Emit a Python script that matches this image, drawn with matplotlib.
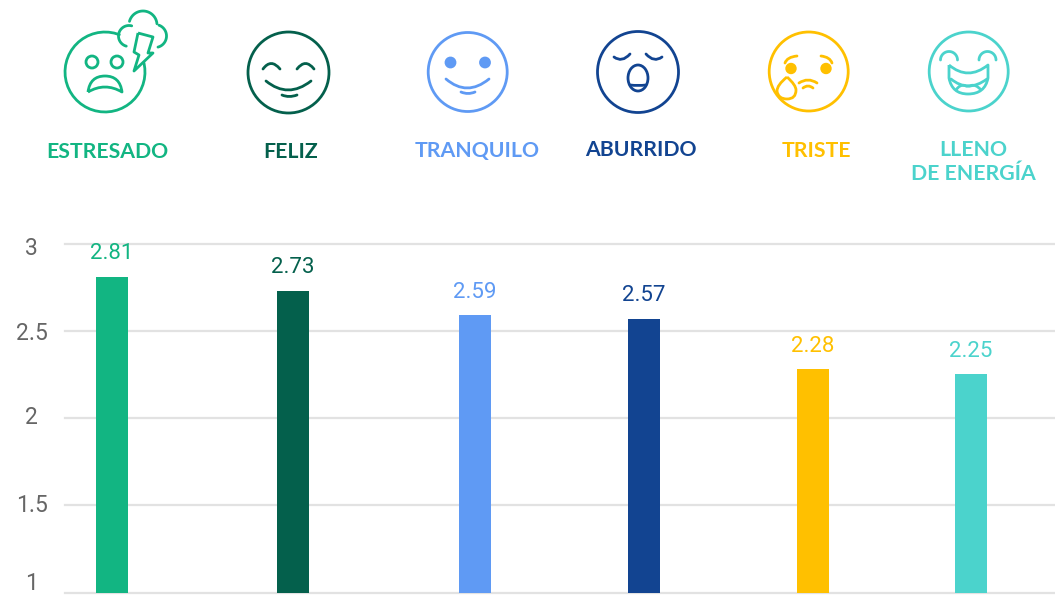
import numpy as np
import matplotlib
matplotlib.use("Agg")
import matplotlib.pyplot as plt
from matplotlib.path import Path
from matplotlib.patches import PathPatch, Circle, Ellipse
from matplotlib.transforms import ScaledTranslation

labels = ["ESTRESADO", "FELIZ", "TRANQUILO", "ABURRIDO", "TRISTE", "LLENO\nDE ENERGÍA"]
values = [2.81, 2.73, 2.59, 2.57, 2.28, 2.25]
colors = ["#12B582", "#04604C", "#5F9AF4", "#124491", "#FFC000", "#4BD3CC"]
yticks = [1, 1.5, 2, 2.5, 3]
yticklabels = ["1", "1.5", "2", "2.5", "3"]

# layout, in reference pixels
bar_x = [112, 293, 475, 644, 813, 971]
label_x = [107, 291, 477, 641, 816, 973]
label_y = [152, 152, 151, 150, 151, 150]
tick_shift = [11, 2, 3, 0, -2]  # the tick labels sit a bit off their gridlines
W, H = 1055, 596

fig = plt.figure(figsize=(W / 100, H / 100), dpi=100)

ax = fig.add_axes([65 / W, (H - 592.5) / H, (W - 65) / W, 349 / H])
ax.set_xlim(65, W)
ax.set_ylim(1, 3)
ax.bar(bar_x, np.array(values) - 1, bottom=1, width=32, color=colors, zorder=3)
for x, v, c in zip(bar_x, values, colors):
    ax.annotate(f"{v:.2f}", (x, v), xytext=(0, 9), textcoords="offset points",
                ha="center", va="bottom", fontsize=16, color=c,
                family="Roboto", annotation_clip=False)
ax.set_yticks(yticks, yticklabels)
ax.set_xticks([])
ax.grid(axis="y", color="#e2e2e2", lw=1.6, zorder=0)
for g in ax.get_ygridlines():
    g.set_clip_on(False)
ax.tick_params(axis="y", length=0, pad=24, labelsize=16.5, labelcolor="#666666")
for t, dy in zip(ax.get_yticklabels(), tick_shift):
    t.set_family("Roboto")
    t.set_ha("center")
    t.set_transform(t.get_transform() + ScaledTranslation(0, dy / 100, fig.dpi_scale_trans))
for s in ax.spines.values():
    s.set_visible(False)

# overlay in pixel coordinates for the icons and the titles
ov = fig.add_axes([0, 0, 1, 1], facecolor="none")
ov.set_xlim(0, W)
ov.set_ylim(H, 0)
ov.axis("off")

LW = 2.0


def ring(x, y, r, c, lw=LW, fill=False):
    ov.add_patch(Circle((x, y), r, fc=c if fill else "none", ec=c, lw=lw))


def arc(cx, cy, r, t1, t2, c, lw=LW):
    t = np.radians(np.linspace(t1, t2, 40))
    ov.plot(cx + r * np.cos(t), cy - r * np.sin(t), color=c, lw=lw, solid_capstyle="round")


def curve(p0, ctrl, p1, c, lw=LW):
    path = Path([p0, ctrl, p1], [Path.MOVETO, Path.CURVE3, Path.CURVE3])
    ov.add_patch(PathPatch(path, fc="none", ec=c, lw=lw, capstyle="round"))


def shape(points, codes, c, lw=LW):
    ov.add_patch(PathPatch(Path(points, codes), fc="none", ec=c, lw=lw, joinstyle="round"))


M, L, Q = Path.MOVETO, Path.LINETO, Path.CURVE3

# estresado
c = colors[0]
arc(105, 72, 40, 69, 373, c)
ring(92, 62, 6, c)
ring(117, 62, 6, c)
shape([(88, 92), (90, 76), (105, 76), (120, 76), (122, 92), (105, 82), (88, 92)],
      [M, Q, Q, Q, Q, Q, Q], c)
arc(129, 36, 10.5, 75, 255, c)
arc(143, 25, 14, 5, 165, c)
arc(155, 36, 11.5, -75, 70, c)
shape([(138, 33), (153, 37), (148, 53), (153, 53), (134, 71), (139, 55), (134, 52), (138, 33)],
      [M, L, L, L, L, L, L, L], c)

# feliz
c = colors[1]
ring(288.5, 72.5, 40.5, c)
curve((263, 69), (271, 58), (280, 69), c)
curve((297, 69), (305.5, 58), (314, 69), c)
curve((266, 81), (288, 99), (311, 81), c)
curve((282, 95), (289, 98), (297, 95), c)

# tranquilo
c = colors[2]
ring(467.7, 72, 39.5, c)
ring(450.5, 62.5, 4.5, c, fill=True)
ring(485, 62.5, 4.5, c, fill=True)
curve((446, 79), (467, 97), (489, 79), c)
curve((461, 92), (468, 95), (475, 92), c)

# aburrido
c = colors[3]
ring(638, 72, 40.5, c)
curve((614, 57), (622, 63), (630, 54), c)
curve((646, 54), (654, 63), (662, 57), c)
ov.add_patch(Ellipse((638, 78), 20, 26, fc="none", ec=c, lw=LW))
curve((630, 85), (638, 86), (646, 85), c)

# triste
c = colors[4]
ring(808.7, 71.5, 39.5, c)
ring(791, 68.5, 4.3, c, fill=True)
ring(826, 68.5, 4.3, c, fill=True)
curve((785, 63), (787, 57), (797, 56), c)
curve((821, 56), (830, 57), (832, 63), c)
curve((799, 83), (808, 77), (817, 83), c)
curve((803, 88), (808, 84), (813, 88), c)
shape([(787, 77), (777, 85), (777, 91), (778, 99), (787, 99), (796, 99), (796, 90), (796, 85), (787, 77)],
      [M, Q, Q, Q, Q, Q, Q, Q, Q], c)

# lleno de energia
c = colors[5]
ring(968.7, 71.5, 39.5, c)
arc(949, 60, 8.5, 0, 180, c)
arc(987.5, 60, 8.5, 0, 180, c)
shape([(949, 65), (968, 81), (988, 65), (988, 78), (985, 94), (968, 94), (952, 94), (949, 78), (949, 65)],
      [M, Q, Q, L, Q, Q, Q, Q, L], c)
curve((951, 79), (968, 93), (987, 79), c)
shape([(956, 90), (960, 84), (965, 85.5), (968, 87), (971, 85.5), (976, 84), (981, 90)],
      [M, Q, Q, Q, Q, Q, Q], c)

for x, y, s, c in zip(label_x, label_y, labels, colors):
    for i, part in enumerate(s.split("\n")):
        ov.text(x, y + i * 24, part, color=c, ha="center", va="center",
                family="Lato", weight="bold", fontsize=15.3)

fig.savefig("out.png", dpi=100)
